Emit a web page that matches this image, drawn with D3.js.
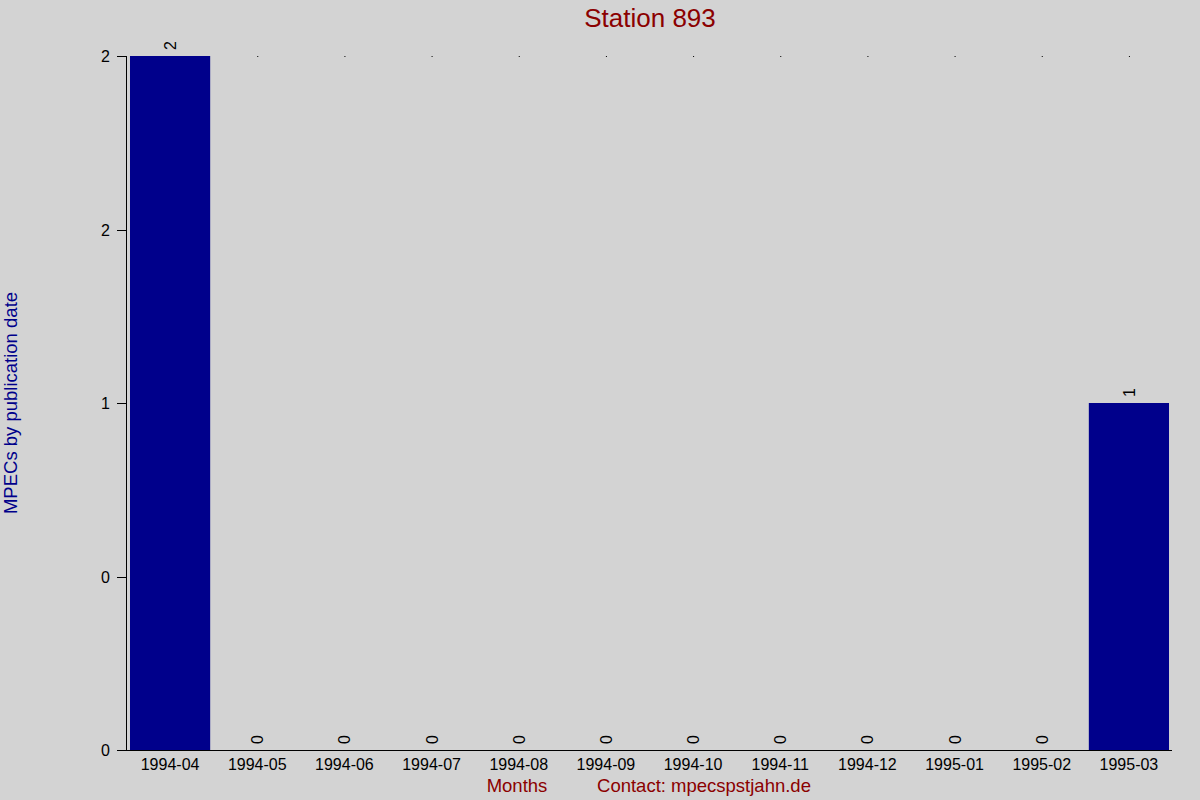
<!DOCTYPE html>
<html><head><meta charset="utf-8">
<script src="https://cdn.jsdelivr.net/npm/d3@7"></script>
<style>body{margin:0;background:#d3d3d3;}svg{display:block;font-family:"Liberation Sans",Arial,sans-serif;}</style>
</head><body><svg id="c" width="1200" height="800"></svg>
<script>
const months = ["1994-04","1994-05","1994-06","1994-07","1994-08","1994-09","1994-10","1994-11","1994-12","1995-01","1995-02","1995-03"];
const counts = [2,0,0,0,0,0,0,0,0,0,0,1];
const yTicks = [0,0.5,1,1.5,2];
const yTickLabels = ["0","0","1","2","2"];

const svg = d3.select("#c");
svg.append("rect").attr("width",1200).attr("height",800).attr("fill","#d3d3d3");
const x = d3.scaleBand().domain(months).range([126.5,1172.5]).paddingInner(0.08).paddingOuter(0.04);
const y = d3.scaleLinear().domain([0,2]).range([750,56]);

svg.selectAll("rect.dot").data(months).join("rect").attr("class","dot")
  .attr("x",d=>x(d)+x.bandwidth()/2).attr("y",y(2)).attr("width",1).attr("height",1).attr("fill","#000");

svg.selectAll("rect.bar").data(months).join("rect").attr("class","bar")
  .attr("x",d=>x(d)).attr("width",x.bandwidth())
  .attr("y",(d,i)=>y(counts[i])).attr("height",(d,i)=>y(0)-y(counts[i]))
  .attr("fill","#00008b");

svg.selectAll("text.val").data(months).join("text").attr("class","val")
  .attr("transform",(d,i)=>`translate(${x(d)+x.bandwidth()/2+6},${y(counts[i])-6}) rotate(-90)`)
  .attr("font-size",16).attr("fill","#000").text((d,i)=>counts[i]);

svg.append("line").attr("x1",126.5).attr("x2",126.5).attr("y1",56).attr("y2",750).attr("stroke","#000");
svg.selectAll("line.yt").data(yTicks).join("line").attr("class","yt")
  .attr("x1",117).attr("x2",127).attr("y1",d=>Math.round(y(d))+0.5).attr("y2",d=>Math.round(y(d))+0.5).attr("stroke","#000");
svg.selectAll("text.yl").data(yTicks).join("text").attr("class","yl")
  .attr("x",110).attr("y",d=>y(d)+6).attr("text-anchor","end").attr("font-size",16).text((d,i)=>yTickLabels[i]);
svg.append("line").attr("x1",117).attr("x2",1172).attr("y1",750.5).attr("y2",750.5).attr("stroke","#000");
svg.selectAll("text.xl").data(months).join("text").attr("class","xl")
  .attr("x",d=>x(d)+x.bandwidth()/2).attr("y",770).attr("text-anchor","middle").attr("font-size",16).text(d=>d);

svg.append("text").attr("x",650).attr("y",27).attr("text-anchor","middle").attr("font-size",26).attr("fill","#8b0000").text("Station 893");
svg.append("text").attr("transform","translate(17,403) rotate(-90)").attr("text-anchor","middle").attr("font-size",18.5).attr("fill","#00008b").text("MPECs by publication date");
svg.append("text").attr("x",517).attr("y",792).attr("text-anchor","middle").attr("font-size",18.5).attr("fill","#8b0000").text("Months");
svg.append("text").attr("x",704).attr("y",792).attr("text-anchor","middle").attr("font-size",18.5).attr("fill","#8b0000").text("Contact: mpecspstjahn.de");
</script></body></html>
